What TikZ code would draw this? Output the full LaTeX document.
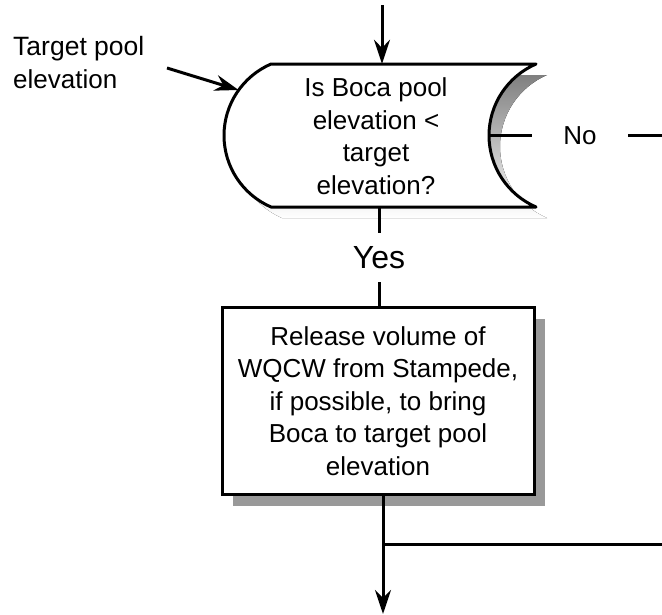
\documentclass[tikz,border=0pt]{standalone}
\usepackage{fontspec}
\setmainfont{Liberation Sans}
\usetikzlibrary{arrows.meta,shadows,calc}
\definecolor{shade}{RGB}{153,153,153}
% outline of the decision: convex left end, concave right end
\newcommand{\decisionoutline}{%
  (271,64) -- (536,64)
  .. controls (507.5,76.4) and (489,104.4) .. (489,135.5)
  .. controls (489,166.6) and (507.5,194.6) .. (536,207)
  -- (271,207)
  .. controls (242.5,194.6) and (224,166.6) .. (224,135.5)
  .. controls (224,104.4) and (242.5,76.4) .. (271,64) -- cycle}
\begin{document}
\begin{tikzpicture}[x=1pt,y=-1pt,
  line/.style={line width=3pt},
  flow/.style={line, -{Stealth[length=24pt,width=16pt,inset=8pt]}},
  txt/.style={font=\fontsize{26}{32.5}\selectfont, align=center, inner sep=0pt},
]
\useasboundingbox (0,0) rectangle (662,614);

% decision shape with its flat drop shadow
\fill[shade, shift={(11,11)}] \decisionoutline;
\draw[line, fill=white, line join=round] \decisionoutline;
\node[minimum width=312pt, minimum height=143pt, inner sep=0pt] (dec) at (380,135.5) {};
\node[txt] (dectext) at (376,136) {Is Boca pool\\elevation <\\target\\elevation?};
\coordinate (decno) at (489,135.5);
\coordinate (decin) at (238.6,90);

% process box
\node[txt, draw, line, fill=white, minimum width=312pt, minimum height=187pt,
  drop shadow={shadow xshift=11pt, shadow yshift=-11pt, fill=shade, opacity=1}]
  (rel) at (378,401)
  {Release volume of\\WQCW from Stampede,\\if possible, to bring\hspace*{10pt}\\Boca to target pool\hspace*{10pt}\\elevation};

% labels
\node[txt, align=left, anchor=base west] (tgt) at (13,88) {\fontsize{26.5}{36}\selectfont Target pool\\elevation};
\node[font=\fontsize{32}{36}\selectfont, inner sep=0pt, minimum height=49pt] (yes) at (379,257.5) {Yes};
\node[txt, minimum width=96pt] (no) at (580,135.5) {No};

% connectors
\coordinate (topin) at (382,5);
\coordinate (tgtout) at (167,68);
\coordinate (noexit) at (662,135.5);
\coordinate (outlet) at (383,614);
\coordinate (brj) at (383,544);
\coordinate (brout) at (662,544);

\draw[flow] (topin) -- (dec.north -| topin);
\draw[flow] (tgtout) -- (decin);
\draw[line] (decno) -- (no.west);
\draw[line] (no.east) -- (noexit);
\draw[line] (dec.south -| yes) -- (yes.north);
\draw[line] (yes.south) -- (rel.north -| yes);
\draw[flow] (rel.south -| outlet) -- (outlet);
\draw[line] (brj) -- (brout);
\end{tikzpicture}
\end{document}
